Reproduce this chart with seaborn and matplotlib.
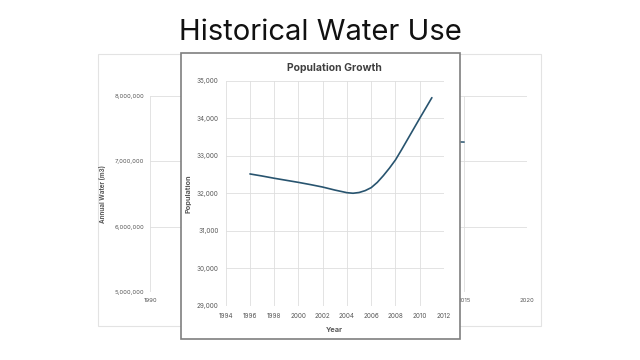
import pandas as pd
import matplotlib.pyplot as plt
import seaborn as sns
from matplotlib.patches import Rectangle


# values
pop_years = [1996, 1997, 1998, 1999, 2000, 2001, 2002, 2003, 2003.5, 2004, 2004.5,
             2005, 2005.5, 2006, 2006.5, 2007, 2007.5, 2008, 2008.5, 2009, 2010, 2011]
pop_values = [32515, 32460, 32400, 32345, 32290, 32230, 32165, 32085, 32050, 32015, 32000,
              32020, 32070, 32150, 32290, 32470, 32670, 32890, 33160, 33440, 34000, 34550]
pop_xticks = [1994, 1996, 1998, 2000, 2002, 2004, 2006, 2008, 2010, 2012]
pop_yticks = [29000, 30000, 31000, 32000, 33000, 34000, 35000]

# background chart (mostly hidden behind the population chart)
water_years = [2013, 2014, 2015]
water_values = [7300000, 7300000, 7295000]
water_xticks = [1990, 1995, 2000, 2005, 2010, 2015, 2020]
water_yticks = [5000000, 6000000, 7000000, 8000000]

line_color = '#28546f'
grid_color = '#dedede'
text_color = '#595959'

sns.set_style('white')
plt.rcParams['font.family'] = ['Inter', 'DejaVu Sans']

W, H = 640, 360


def box(x0, y0, x1, y1):
    # pixel box (top-left origin) -> figure fraction rect
    return [x0 / W, 1 - y1 / H, (x1 - x0) / W, (y1 - y0) / H]


fig = plt.figure(figsize=(6.4, 3.6), dpi=100)
fig.patch.set_facecolor('white')

fig.text(0.5, 1 - 32 / H, 'Historical Water Use', ha='center', va='center',
         fontsize=21, color='#111111')

# background panel
b = box(98, 54, 541, 326)
fig.add_artist(Rectangle((b[0], b[1]), b[2], b[3], transform=fig.transFigure,
                         fill=False, ec='#e3e3e3', lw=0.8, zorder=-1))

ax_bg = fig.add_axes(box(150, 96, 527, 292))
water_df = pd.DataFrame({'Year': water_years, 'Water': water_values})
sns.lineplot(data=water_df, x='Year', y='Water', ax=ax_bg, color=line_color, lw=1.1)
ax_bg.set_xlim(1990, 2020)
ax_bg.set_ylim(5000000, 8000000)
ax_bg.set_xticks(water_xticks)
ax_bg.set_xticklabels([str(v) if v in (1990, 2015, 2020) else '' for v in water_xticks])
ax_bg.set_yticks(water_yticks)
ax_bg.set_yticklabels([f'{v:,}' for v in water_yticks])
ax_bg.grid(True, color=grid_color, lw=0.6)
for s in ax_bg.spines.values():
    s.set_visible(False)
ax_bg.tick_params(length=0, labelsize=4.3, colors=text_color, pad=4)
ax_bg.set_xlabel('')
ax_bg.set_ylabel('Annual Water (m3)', fontsize=4.5, color=text_color, fontweight='bold', labelpad=6)

# population panel on top
p = box(180.5, 53, 460, 339)
fig.add_artist(Rectangle((p[0], p[1]), p[2], p[3], transform=fig.transFigure,
                         fc='white', ec='#7f7f7f', lw=1.2, zorder=1))

ax = fig.add_axes(box(225.7, 80.8, 444, 305.7), zorder=2)
ax.patch.set_alpha(0)
pop_df = pd.DataFrame({'Year': pop_years, 'Population': pop_values})
sns.lineplot(data=pop_df, x='Year', y='Population', ax=ax, color=line_color, lw=1.2)
ax.set_xlim(1994, 2012)
ax.set_ylim(29000, 35000)
ax.set_xticks(pop_xticks)
ax.set_yticks(pop_yticks)
ax.set_yticklabels([f'{v:,}' for v in pop_yticks])
ax.grid(True, color=grid_color, lw=0.6)
for s in ax.spines.values():
    s.set_visible(False)
ax.tick_params(length=0, labelsize=4.6, colors=text_color, pad=5)
ax.set_title('Population Growth', fontsize=7.5, fontweight='bold', color='#404040', pad=7)
ax.set_xlabel('Year', fontsize=5.3, fontweight='bold', color=text_color, labelpad=6)
ax.set_ylabel('Population', fontsize=5.3, fontweight='bold', color=text_color, labelpad=4)

fig.savefig('out.png', dpi=100)
